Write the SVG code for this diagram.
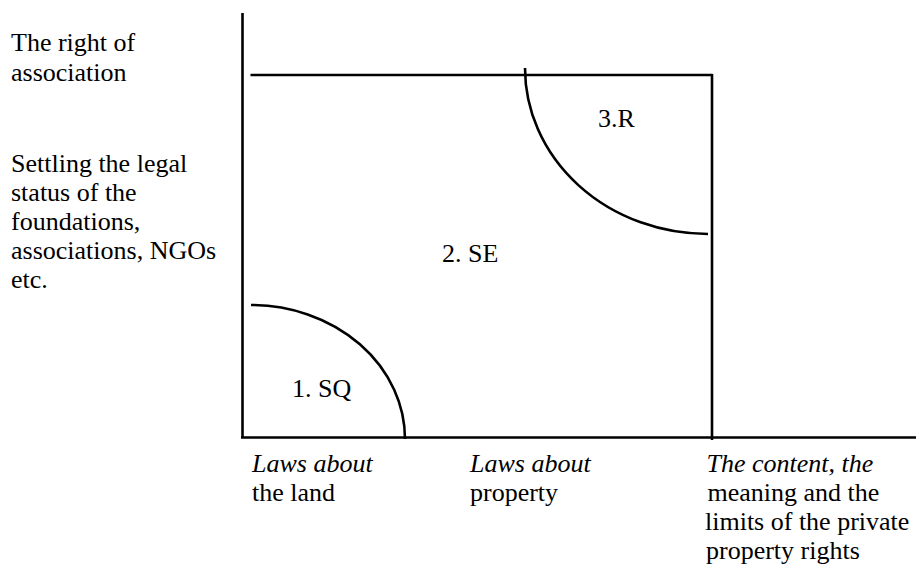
<svg xmlns="http://www.w3.org/2000/svg" width="916" height="567" viewBox="0 0 916 567">
<style>
.t{font-family:"Liberation Serif","Times New Roman",serif;font-size:26px;fill:#000}
.i{font-style:italic}
.ln{stroke:#000;stroke-width:2.6;fill:none}
</style>
<rect width="916" height="567" fill="#fff"/>
<g id="connectors">
<line class="ln" x1="242.5" y1="13" x2="242.5" y2="438"/>
<line class="ln" x1="241" y1="437.5" x2="916" y2="437.5"/>
<line class="ln" x1="250.5" y1="75" x2="712.5" y2="75"/>
<line class="ln" x1="712" y1="74" x2="712" y2="440"/>
</g>
<g id="zone-sq">
<path class="ln" d="M251,305 A154,134 0 0 1 405,439"/>
<text class="t" x="292" y="396.5">1. SQ</text>
</g>
<g id="zone-se">
<text class="t" x="442" y="262">2. SE</text>
</g>
<g id="zone-r">
<path class="ln" d="M525,68 A183,166 0 0 0 708,234"/>
<text class="t" x="598" y="127">3.R</text>
</g>
<g id="label-association">
<text class="t" x="11" y="51">The right of</text>
<text class="t" x="11" y="81">association</text>
</g>
<g id="label-legal-status">
<text class="t" x="11" y="171.5">Settling the legal</text>
<text class="t" x="11" y="200.5">status of the</text>
<text class="t" x="11" y="229.5">foundations,</text>
<text class="t" x="11" y="258.5">associations, NGOs</text>
<text class="t" x="11" y="287.5">etc.</text>
</g>
<g id="label-land">
<text class="t i" x="252" y="471.5">Laws about</text>
<text class="t" x="252" y="500.5">the land</text>
</g>
<g id="label-property">
<text class="t i" x="470" y="471.5">Laws about</text>
<text class="t" x="470" y="500.5">property</text>
</g>
<g id="label-content">
<text class="t i" x="706.5" y="471.5">The content, the</text>
<text class="t" x="707.5" y="500.5">meaning and the</text>
<text class="t" x="705" y="529.5">limits of the private</text>
<text class="t" x="706" y="558.5">property rights</text>
</g>
</svg>
